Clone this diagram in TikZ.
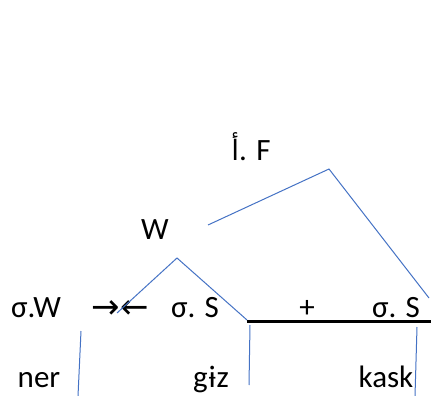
\documentclass[tikz,border=0pt]{standalone}
\usepackage{fontspec}
\setmainfont{Carlito}
\newfontfamily\arabicfont[Script=Arabic]{DejaVu Sans}
\newfontfamily\arrowfont{DejaVu Sans}
\TeXXeTstate=1
\definecolor{linkblue}{RGB}{68,114,196}

\begin{document}
\begin{tikzpicture}[x=1pt,y=-1pt,
  lbl/.style={inner sep=0pt,anchor=base,font=\fontsize{31}{36}\selectfont},
  link/.style={linkblue,line width=1pt}]
\useasboundingbox (0,0) rectangle (431,396);
\node[lbl] (foot) at (251,160) {{\arabicfont\fontsize{28}{32}\selectfont\beginR أ\endR}. F};
\node[lbl] (wfoot) at (155,239) {W};
\node[lbl] (sigw) at (36,317) {σ.W};
\node[lbl,font=\arrowfont\fontsize{34}{40}\selectfont] (clash) at (120,318) {→←};
\node[lbl] (sigsa) at (195,317) {σ. S};
\node[lbl] (plus) at (307,317) {+};
\node[lbl] (sigsb) at (396,317) {σ. S};
\node[lbl] (ner) at (39,387) {ner};
\node[lbl] (giz) at (211,387) {gɨz};
\node[lbl] (kask) at (386,387) {kask};
\coordinate (fl) at (208,225);
\coordinate (ftop) at (329,169);
\coordinate (fr) at (429,298);
\coordinate (wl) at (117,313);
\coordinate (wtop) at (177,258);
\coordinate (wr) at (247,320);
\coordinate (bara) at (247,321);
\coordinate (barb) at (431,321);
\draw [link] (fl) -- (ftop) -- (fr);
\draw [link] (wl) -- (wtop) -- (wr);
\draw [line width=3pt] (bara) -- (barb);
\draw [link] (81,331) -- (78,396);
\draw [link] (250,325) -- (249,385);
\draw [link] (417,327) -- (415,396);
\end{tikzpicture}
\end{document}
